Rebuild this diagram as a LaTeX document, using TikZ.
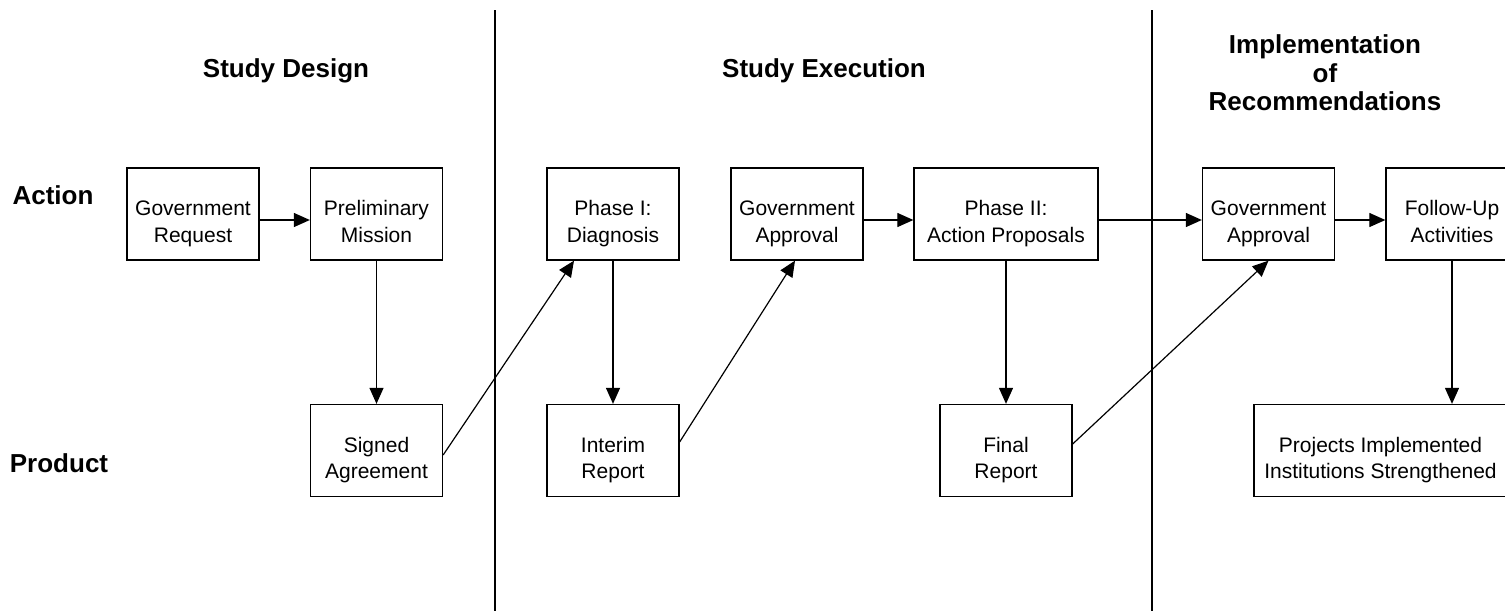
\documentclass[tikz,border=0pt]{standalone}
\usepackage{fontspec}
\setmainfont{Liberation Sans}
\usetikzlibrary{arrows.meta}

\begin{document}
\begin{tikzpicture}[x=1pt, y=-1pt,
                    >={Triangle[length=16pt,width=14pt]},
                    line width=1.3pt]
    \tikzstyle{stage}=[draw, minimum width=132pt, minimum height=92pt, inner sep=0pt,
                       text height=60pt, text depth=4pt,
                       align=center, font=\fontsize{21}{26.5}\selectfont]
    \tikzstyle{widestage}=[stage, minimum width=184pt]
    \tikzstyle{heading}=[align=center, font=\fontsize{26}{28.5}\selectfont\bfseries]
    \tikzstyle{divider}=[line width=1.5pt]
    \tikzstyle{flow}=[->, line width=1.2pt]

    \clip (0,0) rectangle (1505,611);

    % phase headings and row labels
    \node[heading] (design) at (286,71) {Study Design};
    \node[heading] (execution) at (824,71) {Study Execution};
    \node[heading] (implementation) at (1325,73) {Implementation\\of\\Recommendations};
    \node[heading] (action) at (53,195) {Action};
    \node[heading] (product) at (59,463) {Product};

    \draw[divider] (495,10) -- (495,611);
    \draw[divider] (1152,10) -- (1152,611);

    % action row
    \node[stage] (govreq) at (193,214) {Government\\Request};
    \node[stage] (prelim) at (376.5,214) {Preliminary\\Mission};
    \node[stage] (phaseone) at (613,214) {Phase I:\\Diagnosis};
    \node[stage] (govapp) at (797,214) {Government\\Approval};
    \node[widestage] (phasetwo) at (1006,214) {Phase II:\\Action Proposals};
    \node[stage] (govimpl) at (1268.5,214) {Government\\Approval};
    \node[stage] (followup) at (1452,214) {Follow-Up\\Activities};

    % product row
    \node[stage] (signed) at (376.5,450.5) {Signed\\Agreement};
    \node[stage] (interim) at (613,450.5) {Interim\\Report};
    \node[stage] (final) at (1006,450.5) {Final\\Report};
    \node[stage, minimum width=253pt] (projects) at (1380.5,450.5) {Projects Implemented\\Institutions Strengthened};

    \draw[flow] ([yshift=-6pt]govreq.east) -- ([yshift=-6pt]prelim.west);
    \draw[flow] ([yshift=-6pt]govapp.east) -- ([yshift=-6pt]phasetwo.west);
    \draw[flow] ([yshift=-6pt]phasetwo.east) -- ([yshift=-6pt]govimpl.west);
    \draw[flow] ([yshift=-6pt]govimpl.east) -- ([yshift=-6pt]followup.west);

    \draw[flow] (prelim) -- (signed);
    \draw[flow] (phaseone) -- (interim);
    \draw[flow] (phasetwo) -- (final);
    \draw[flow] (followup.south) -- (followup.south |- projects.north);

    \draw[flow] ([yshift=-4.5pt]signed.east) -- ([xshift=-39pt]phaseone.south);
    \draw[flow] ([yshift=8.5pt]interim.east) -- ([xshift=-2pt]govapp.south);
    \draw[flow] ([yshift=6.5pt]final.east) -- (govimpl.south);
\end{tikzpicture}
\end{document}
